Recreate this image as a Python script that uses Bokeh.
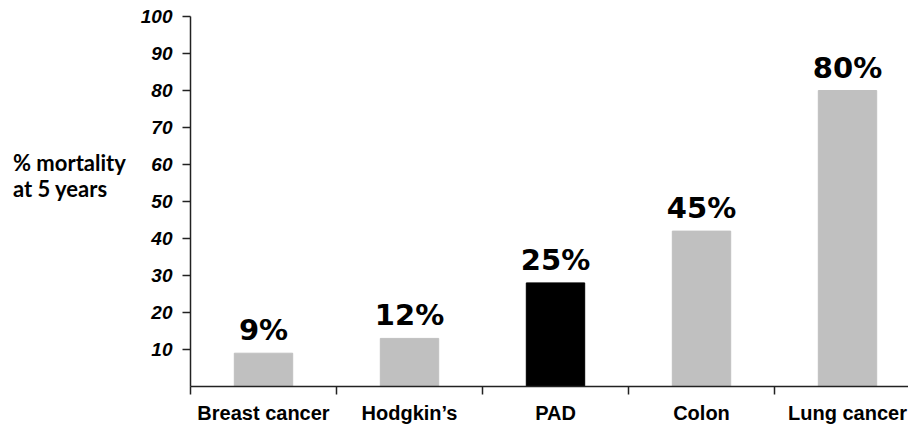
from bokeh.plotting import figure
from bokeh.models import FixedTicker, ColumnDataSource, Range1d, Div
from bokeh.layouts import row
from bokeh.embed import file_html
from bokeh.resources import INLINE
from bokeh.core.properties import value

categories = ["Breast cancer", "Hodgkin\u2019s", "PAD", "Colon", "Lung cancer"]
mortality = [9, 13, 28, 42, 80]
bar_labels = ["9%", "12%", "25%", "45%", "80%"]
y_ticks = [10, 20, 30, 40, 50, 60, 70, 80, 90, 100]
y_title_lines = ["% mortality", "at 5 years"]
highlight = "PAD"

GRAY = "#c0c0c0"
BLACK = "#000000"

xs = [i + 0.5 for i in range(len(categories))]
colors = [BLACK if c == highlight else GRAY for c in categories]
src = ColumnDataSource(dict(x=xs, top=mortality, label=bar_labels, color=colors))

CAT_W = 146.0
DIV_W = 130

p = figure(frame_width=718, frame_height=370, min_border_left=190 - DIV_W, min_border_top=16,
           min_border_right=0, min_border_bottom=10,
           x_range=Range1d(0, 718 / CAT_W), y_range=Range1d(0, 100),
           output_backend="svg", toolbar_location=None)
p.outline_line_color = None
p.xgrid.visible = False
p.ygrid.visible = False
p.background_fill_color = "white"
p.border_fill_color = "white"

p.vbar(x="x", top="top", width=0.4, bottom=0, color="color", source=src)
p.text(x="x", y="top", text="label", source=src, text_align="center",
       text_baseline="bottom", y_offset=-6,
       text_font=value("DejaVu Sans"), text_font_style="bold",
       text_font_size="29px", text_color="black")

# x axis
xa = p.xaxis[0]
xa.ticker = FixedTicker(ticks=xs, minor_ticks=list(range(len(categories) + 1)))
xa.major_label_overrides = {x: c for x, c in zip(xs, categories)}
xa.major_tick_out = 0
xa.major_tick_in = 0
xa.minor_tick_out = 8
xa.minor_tick_in = 0
xa.minor_tick_line_color = "#222222"
xa.minor_tick_line_width = 1.5
xa.axis_line_color = "#222222"
xa.axis_line_width = 1.5
xa.major_label_text_font = "Liberation Sans"
xa.major_label_text_font_style = "bold"
xa.major_label_text_font_size = "20px"
xa.major_label_text_color = "black"
xa.major_label_standoff = 7

# y axis
ya = p.yaxis[0]
ya.ticker = FixedTicker(ticks=y_ticks, minor_ticks=[])
ya.major_tick_out = 8
ya.major_tick_in = 0
ya.minor_tick_out = 0
ya.minor_tick_in = 0
ya.major_tick_line_color = "#222222"
ya.major_tick_line_width = 1.5
ya.axis_line_color = "#222222"
ya.axis_line_width = 1.5
ya.major_label_text_font = "Liberation Sans"
ya.major_label_text_font_style = "bold italic"
ya.major_label_text_font_size = "19px"
ya.major_label_text_color = "black"
ya.major_label_standoff = 10

div = Div(text="<br>".join(y_title_lines), width=DIV_W, height=300,
          styles={"font-family": "Lato", "font-weight": "bold", "font-size": "22px",
                  "line-height": "26px", "padding-top": "150px", "padding-left": "13px",
                  "color": "black", "white-space": "nowrap", "margin": "0"})

layout = row(div, p, spacing=0)
open("out.html", "w").write(file_html(layout, INLINE))
